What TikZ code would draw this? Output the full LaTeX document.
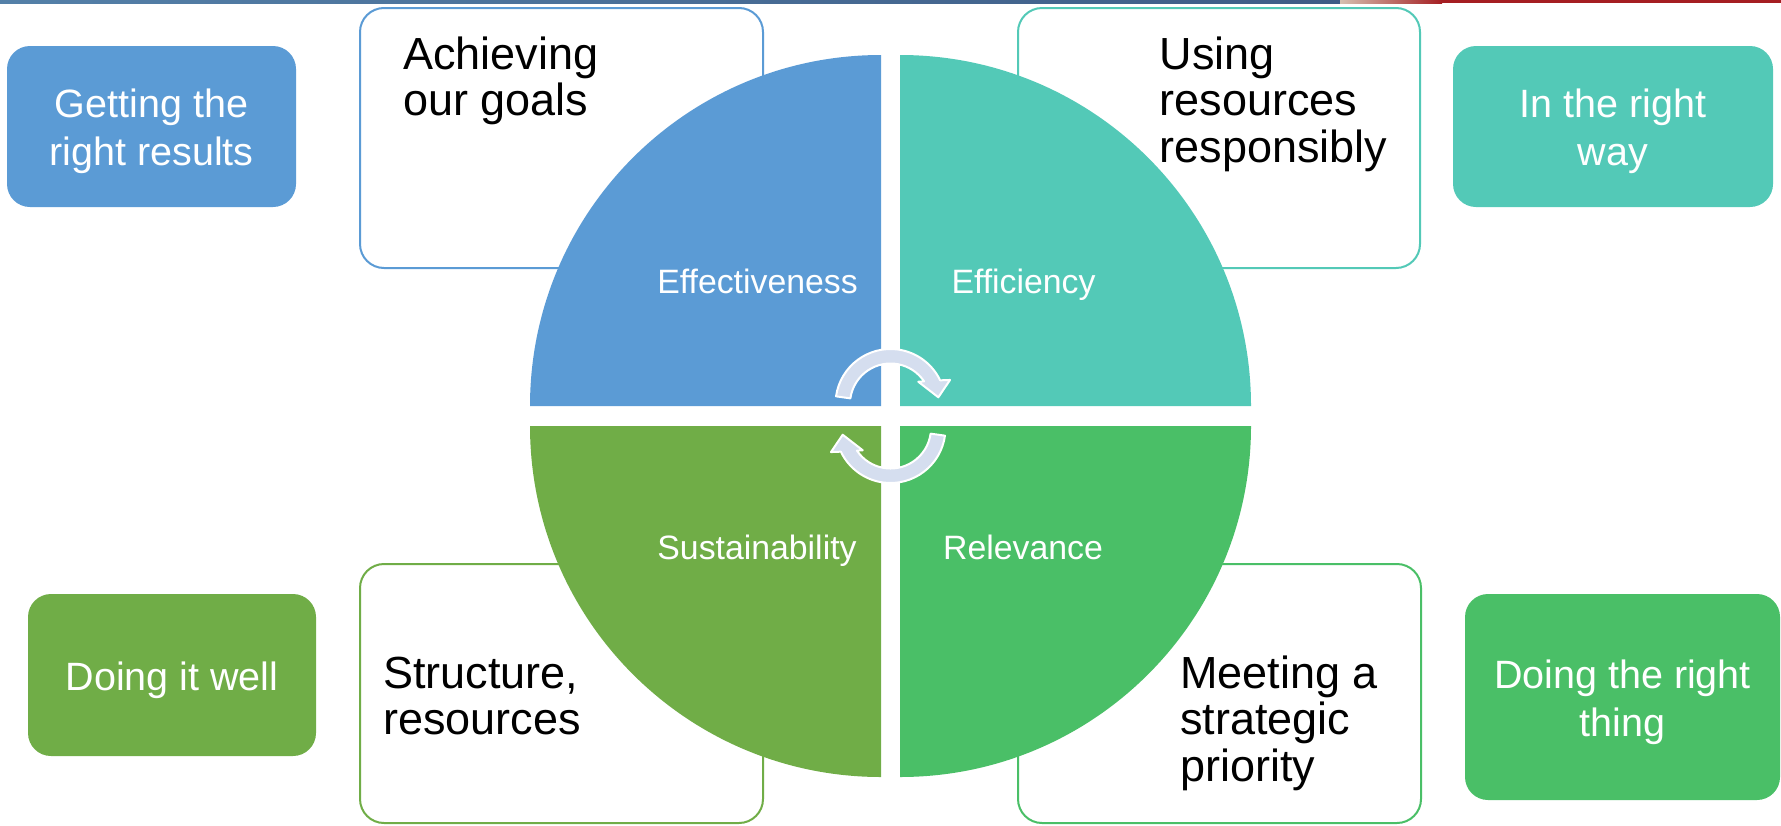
\documentclass[tikz,border=0pt]{standalone}
\usepackage{fontspec}
\setmainfont{Liberation Sans}
\usepackage{tikz}
\usetikzlibrary{positioning}
\definecolor{effblue}{RGB}{91,155,213}
\definecolor{effteal}{RGB}{83,201,183}
\definecolor{susgreen}{RGB}{112,173,71}
\definecolor{relgreen}{RGB}{74,191,103}
\definecolor{arrowfill}{RGB}{213,222,239}
\definecolor{stripblue}{RGB}{84,128,168}
\definecolor{stripdark}{RGB}{62,92,134}
\definecolor{stripbeige}{RGB}{213,191,176}
\definecolor{stripred}{RGB}{165,30,34}

\begin{document}
\begin{tikzpicture}[x=0.5pt, y=-0.5pt,
  outlinebox/.style={draw=#1, line width=1pt, fill=white, rounded corners=12pt, inner sep=0pt},
  sidebox/.style={fill=#1, rounded corners=11.5pt, inner sep=0pt},
  sidetext/.style={text=white, align=center, inner sep=0pt, font=\fontsize{19.75pt}{24pt}\selectfont},
  boxtext/.style={anchor=base west, align=left, inner sep=0pt, font=\fontsize{22.5pt}{23.25pt}\selectfont},
  quadlabel/.style={anchor=base, text=white, inner sep=0pt, font=\fontsize{16.9pt}{20pt}\selectfont},
  cyclearrow/.pic={
    \filldraw[fill=arrowfill, draw=white, line width=1pt, line join=round]
      (188:55) arc[start angle=188, end angle=334.5, radius=55]
      -- (338:64.2) -- (352:48.3) -- (321.3:35.6) -- (326:40.5)
      arc[start angle=326, end angle=188, radius=40.5] -- cycle;
  }]
  \useasboundingbox (0,0) rectangle (1781,825);

  % thin strip along the top edge
  \shade[left color=stripblue, right color=stripdark] (0,0) rectangle (1340,3);
  \shade[left color=stripbeige, right color=stripred] (1340,0) rectangle (1442,3);
  \fill[stripred] (1442,0) rectangle (1781,3);

  % outlined boxes behind the circle
  \node[outlinebox=effblue, minimum width=201.5pt, minimum height=130pt] (goals) at (561.5,138) {};
  \node[outlinebox=effteal, minimum width=201pt, minimum height=130pt] (use) at (1219,138) {};
  \node[outlinebox=susgreen, minimum width=201.5pt, minimum height=129.5pt] (struct) at (561.5,693.5) {};
  \node[outlinebox=relgreen, minimum width=201.5pt, minimum height=129.5pt] (meet) at (1219.5,693.5) {};

  % base anchor sits on the last line
  \node[boxtext] (goals-t) at (403,115.5) {Achieving\\our goals};
  \node[boxtext] (use-t) at (1159.5,162) {Using\\resources\\responsibly};
  \node[boxtext] (struct-t) at (383,734.5) {Structure,\\resources};
  \node[boxtext] (meet-t) at (1180,781) {Meeting a\\strategic\\priority};

  % filled boxes at the sides
  \node[sidebox=effblue, minimum width=144.5pt, minimum height=80.5pt] (results) at (151.5,126.5) {};
  \node[sidebox=effteal, minimum width=160pt, minimum height=80.5pt] (way) at (1613,126.5) {};
  \node[sidebox=susgreen, minimum width=144pt, minimum height=81pt] (well) at (172,675) {};
  \node[sidebox=relgreen, minimum width=157.5pt, minimum height=103pt] (thing) at (1622.5,697) {};

  \node[sidetext] (results-t) at ([yshift=-2.5pt]results.center) {Getting the\\right results};
  \node[sidetext] (way-t) at ([yshift=-2.5pt]way.center) {In the right\\way};
  \node[sidetext] (well-t) at ([yshift=-2.5pt]well.center) {Doing it well};
  \node[sidetext] (thing-t) at ([yshift=-2.5pt]thing.center) {Doing the right\\thing};

  % four quadrants
  \fill[effblue] (881,406) -- (530,406) arc[start angle=180, end angle=270, radius=351] -- cycle;
  \fill[effteal] (900,406) -- (900,55) arc[start angle=270, end angle=360, radius=351] -- cycle;
  \fill[relgreen] (900,426) -- (1251,426) arc[start angle=0, end angle=90, radius=351] -- cycle;
  \fill[susgreen] (881,426) -- (881,777) arc[start angle=90, end angle=180, radius=351] -- cycle;

  \node[quadlabel] (eff) at (757.5,293) {Effectiveness};
  \node[quadlabel] (effc) at (1023.5,293) {Efficiency};
  \node[quadlabel] (sus) at (757,559) {Sustainability};
  \node[quadlabel] (rel) at (1023,559) {Relevance};

  % turning arrows in the middle
  \pic at (890.5,404) {cyclearrow};
  \pic[rotate=180] at (890.5,428) {cyclearrow};
\end{tikzpicture}
\end{document}
